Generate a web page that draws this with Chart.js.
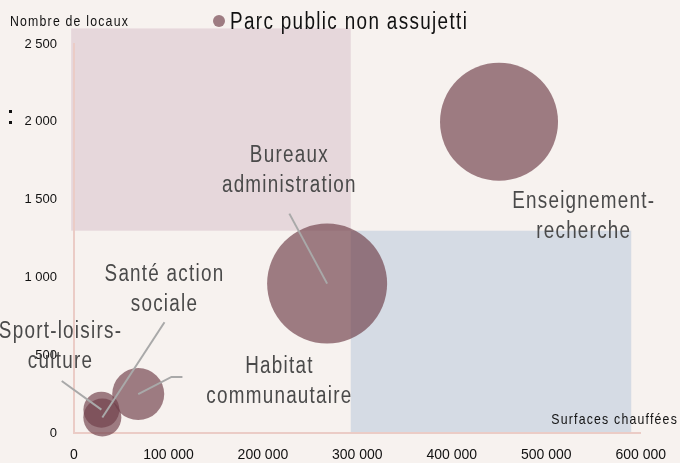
<!DOCTYPE html>
<html>
<head>
<meta charset="utf-8">
<script src="https://cdn.jsdelivr.net/npm/chart.js@4/dist/chart.umd.min.js"></script>
<style>
html,body{margin:0;padding:0;background:#f7f2ef;}
canvas{display:block;}
</style>
</head>
<body>
<canvas id="c" width="680" height="463"></canvas>
<script>
// ---- data ----
const seriesName = 'Parc public non assujetti';
const categories = ['Enseignement-recherche', 'Bureaux administration', 'Habitat communautaire', 'Santé action sociale', 'Sport-loisirs-culture'];
const surfaces = [450000, 268000, 68000, 30000, 29000];   // surfaces chauffées (m²)
const locaux = [2000, 960, 250, 100, 150];                 // nombre de locaux
const bubbleSizes = [59, 60, 26, 19, 18];                  // bubble size
const xTickValues = [0, 100000, 200000, 300000, 400000, 500000, 600000];
const xTickLabels = ['0', '100 000', '200 000', '300 000', '400 000', '500 000', '600 000'];
const yTickValues = [0, 500, 1000, 1500, 2000, 2500];
const yTickLabels = ['0', '500', '1 000', '1 500', '2 000', '2 500'];
const zoneXRanges = [[-3000, 293000], [293000, 590000]];
const zoneYRanges = [[1300, 2600], [0, 1300]];

// ---- annotation layout (data units) ----
const labelAnchors = [
  {lines: ['Enseignement-', 'recherche'], x: 539700, y: 1390},
  {lines: ['Bureaux', 'administration'], x: 228000, y: 1685},
  {lines: ['Habitat', 'communautaire'], x: 217500, y: 329},
  {lines: ['Santé action', 'sociale'], x: 95800, y: 920},
  {lines: ['Sport-loisirs-', 'culture'], x: -14300, y: 554}
];
const leaders = [
  null,
  [[228000, 1410]],
  [[114800, 360], [103200, 360]],
  [[95800, 712]],
  [[-13000, 334]]
];

const BG = '#f7f2ef';
const zoneColors = ['#e6d7db', '#d5dbe4'];
const bubbleColor = 'rgba(112,64,74,0.67)';
const legendColor = '#9e7c82';
const FONT = '"Liberation Sans", Arial, sans-serif';
const SX = 0.82; // horizontal condensing of the label font

function condText(ctx, text, x, y, size, spacing, align) {
  ctx.save();
  ctx.font = size + 'px ' + FONT;
  ctx.letterSpacing = (spacing / SX) + 'px';
  ctx.textAlign = align;
  ctx.scale(SX, 1);
  ctx.fillText(text, x / SX, y);
  ctx.restore();
}

const plugin = {
  id: 'decor',
  beforeDraw(chart) {
    const ctx = chart.ctx, xs = chart.scales.x, ys = chart.scales.y;
    ctx.save();
    ctx.fillStyle = BG;
    ctx.fillRect(0, 0, chart.width, chart.height);
    zoneXRanges.forEach((xr, i) => {
      const x0 = xs.getPixelForValue(xr[0]), x1 = xs.getPixelForValue(xr[1]);
      const y0 = ys.getPixelForValue(zoneYRanges[i][1]), y1 = ys.getPixelForValue(zoneYRanges[i][0]);
      ctx.fillStyle = zoneColors[i];
      ctx.fillRect(x0, y0, x1 - x0, y1 - y0);
    });
    ctx.restore();
  },
  afterDatasetsDraw(chart) {
    const ctx = chart.ctx, xs = chart.scales.x, ys = chart.scales.y;
    ctx.save();
    ctx.strokeStyle = '#a9a9a9';
    ctx.lineWidth = 2;
    leaders.forEach((pts, i) => {
      if (!pts) return;
      ctx.beginPath();
      pts.forEach((p, j) => {
        const px = xs.getPixelForValue(p[0]), py = ys.getPixelForValue(p[1]);
        if (j === 0) ctx.moveTo(px, py); else ctx.lineTo(px, py);
      });
      ctx.lineTo(xs.getPixelForValue(surfaces[i]), ys.getPixelForValue(locaux[i]));
      ctx.stroke();
    });
    ctx.fillStyle = '#4a4a4a';
    ctx.textBaseline = 'middle';
    labelAnchors.forEach(a => {
      const cx = xs.getPixelForValue(a.x), cy = ys.getPixelForValue(a.y);
      const lh = 30;
      const top = cy - lh * (a.lines.length - 1) / 2;
      a.lines.forEach((t, k) => condText(ctx, t, cx, top + k * lh, 23, 1.25, 'center'));
    });
    ctx.restore();
  },
  afterDraw(chart) {
    const ctx = chart.ctx;
    ctx.save();
    // legend
    ctx.fillStyle = legendColor;
    ctx.beginPath();
    ctx.arc(219, 21, 6, 0, Math.PI * 2);
    ctx.fill();
    ctx.fillStyle = '#111';
    ctx.textBaseline = 'alphabetic';
    condText(ctx, seriesName, 230, 29, 23, 1.35, 'left');
    // axis titles
    condText(ctx, 'Nombre de locaux', 10, 26, 15, 1.2, 'left');
    condText(ctx, 'Surfaces chauffées', 678, 424, 15, 1.2, 'right');
    // stray mark
    ctx.fillRect(9, 110, 3, 3);
    ctx.fillRect(9, 121, 3, 3);
    ctx.restore();
  }
};

const fmt = v => String(v).replace(/\B(?=(\d{3})+(?!\d))/g, ' ');

new Chart(document.getElementById('c'), {
  type: 'bubble',
  data: {
    datasets: [{
      label: seriesName,
      data: surfaces.map((x, i) => ({x: x, y: locaux[i], r: bubbleSizes[i]})),
      backgroundColor: bubbleColor,
      borderWidth: 0,
      hoverBorderWidth: 0,
      clip: false
    }]
  },
  options: {
    responsive: false,
    animation: false,
    events: [],
    layout: {autoPadding: false, padding: {top: 44, right: 38, left: 0, bottom: 0}},
    plugins: {legend: {display: false}, tooltip: {enabled: false}},
    scales: {
      x: {
        type: 'linear', min: 0, max: 600000,
        afterBuildTicks: s => { s.ticks = xTickValues.map(v => ({value: v})); },
        afterFit: s => { s.height = 30; },
        grid: {display: false, drawTicks: false},
        border: {display: true, color: '#ebccc6', width: 2},
        ticks: {
          padding: 14, color: '#111', maxRotation: 0, autoSkip: false,
          font: {family: FONT, size: 14},
          callback: v => { const i = xTickValues.indexOf(v); return i >= 0 ? xTickLabels[i] : fmt(v); }
        }
      },
      y: {
        type: 'linear', min: 0, max: 2500,
        afterBuildTicks: s => { s.ticks = yTickValues.map(v => ({value: v})); },
        afterFit: s => { s.width = 74; },
        grid: {display: false, drawTicks: false},
        border: {display: true, color: '#ebccc6', width: 2},
        ticks: {
          padding: 17, color: '#111', autoSkip: false,
          font: {family: FONT, size: 13},
          callback: v => { const i = yTickValues.indexOf(v); return i >= 0 ? yTickLabels[i] : fmt(v); }
        }
      }
    }
  },
  plugins: [plugin]
});
</script>
</body>
</html>
